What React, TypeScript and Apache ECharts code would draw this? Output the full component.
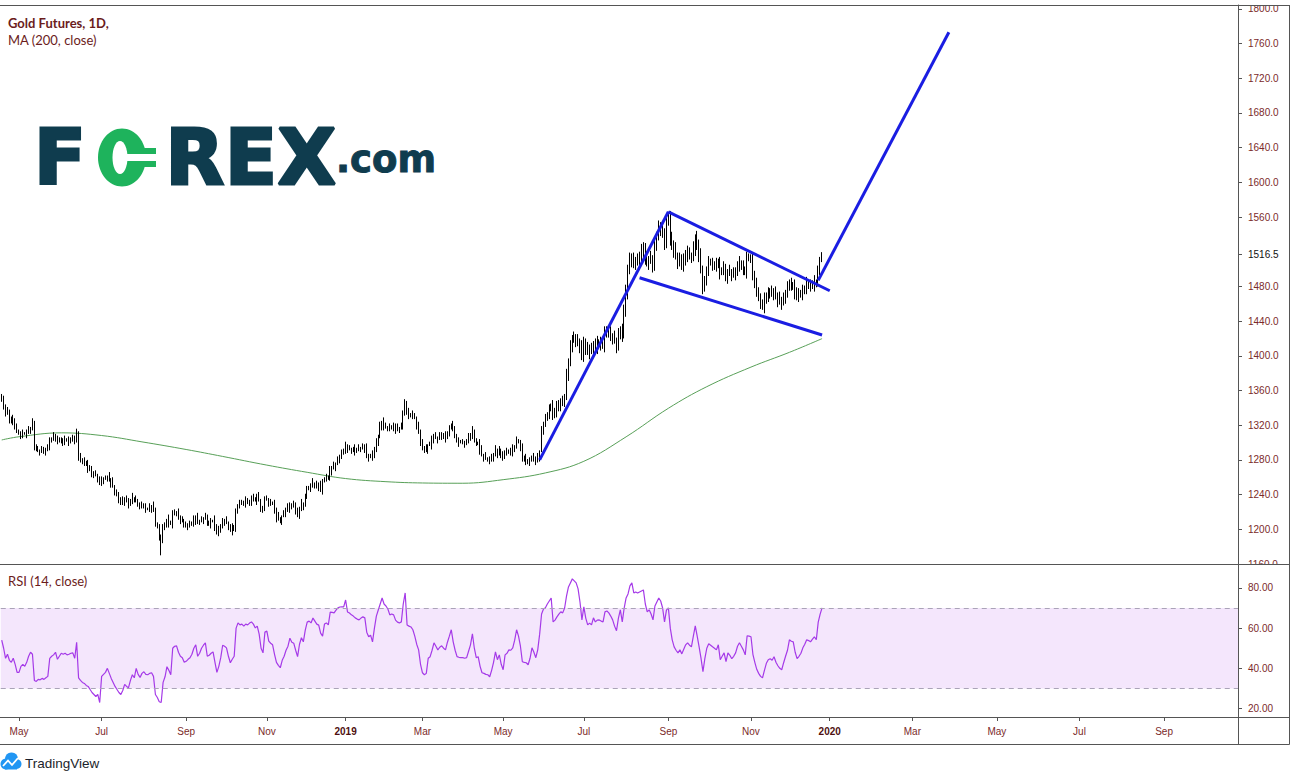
import React, { useEffect, useRef } from "react";
import * as echarts from "echarts";

// ---------- calendar ----------
const FIRST_SESSION = "2018-04-18";
const SESSION_COUNT = 644;
const MARKET_HOLIDAYS = [
  "2018-05-28", "2018-07-04", "2018-09-03", "2018-11-22", "2018-12-25",
  "2019-01-01", "2019-01-21", "2019-02-18", "2019-04-19", "2019-05-27",
  "2019-07-04", "2019-09-02", "2019-11-28", "2019-12-25",
];
const MONTH_ABBR = ["Jan", "Feb", "Mar", "Apr", "May", "Jun", "Jul", "Aug", "Sep", "Oct", "Nov", "Dec"];

// ---------- daily closes (Gold futures) ----------
const FIRST_OPEN = 1353;
const close_2018_04 = [1349, 1342, 1333, 1337, 1327, 1324, 1326, 1318, 1312];
const close_2018_05 = [1311, 1308, 1311, 1310, 1312, 1314, 1316, 1321, 1296, 1293, 1291, 1289, 1291, 1290, 1292, 1295, 1301, 1305, 1308, 1303, 1305, 1301];
const close_2018_06 = [1303, 1300, 1304, 1302, 1301, 1304, 1305, 1302, 1310, 1284, 1280, 1277, 1278, 1274, 1271, 1269, 1265, 1262, 1263, 1258, 1253];
const close_2018_07 = [1257, 1258, 1259, 1261, 1257, 1254, 1250, 1243, 1239, 1235, 1231, 1233, 1236, 1232, 1229, 1233, 1236, 1234, 1232, 1228, 1229];
const close_2018_08 = [1228, 1226, 1224, 1223, 1225, 1226, 1222, 1207, 1202, 1192, 1188, 1201, 1205, 1211, 1208, 1206, 1218, 1220, 1219, 1214, 1211, 1209, 1206];
const close_2018_09 = [1204, 1206, 1205, 1207, 1211, 1213, 1208, 1209, 1211, 1213, 1214, 1208, 1207, 1209, 1210, 1203, 1196, 1199, 1204];
const close_2018_10 = [1209, 1210, 1208, 1203, 1198, 1201, 1203, 1220, 1228, 1229, 1231, 1230, 1232, 1231, 1233, 1236, 1235, 1233, 1237, 1234, 1224, 1222, 1236];
const close_2018_11 = [1235, 1231, 1230, 1229, 1222, 1214, 1212, 1210, 1215, 1218, 1222, 1225, 1229, 1226, 1227, 1222, 1216, 1224, 1230, 1228, 1238];
const close_2018_12 = [1246, 1248, 1250, 1253, 1251, 1250, 1252, 1245, 1255, 1259, 1260, 1259, 1268, 1270, 1272, 1276, 1280, 1284, 1287, 1290];
const close_2019_01 = [1296, 1292, 1293, 1292, 1291, 1292, 1291, 1293, 1294, 1295, 1293, 1285, 1284, 1286, 1283, 1292, 1301, 1307, 1318, 1324, 1320];
const close_2019_02 = [1318, 1317, 1316, 1318, 1319, 1316, 1315, 1316, 1318, 1336, 1346, 1334, 1333, 1332, 1331, 1328, 1320, 1312, 1300];
const close_2019_03 = [1294, 1293, 1291, 1297, 1298, 1302, 1308, 1306, 1304, 1307, 1309, 1307, 1306, 1312, 1316, 1320, 1316, 1309, 1302, 1301, 1300];
const close_2019_04 = [1301, 1300, 1300, 1306, 1309, 1313, 1302, 1300, 1300, 1292, 1285, 1283, 1282, 1281, 1279, 1283, 1286, 1292, 1288, 1290, 1286];
const close_2019_05 = [1282, 1289, 1289, 1291, 1290, 1292, 1295, 1303, 1300, 1294, 1283, 1281, 1280, 1277, 1279, 1283, 1281, 1279, 1282, 1290, 1315, 1322];
const close_2019_06 = [1328, 1333, 1338, 1342, 1331, 1336, 1340, 1344, 1348, 1347, 1352, 1378, 1392, 1410, 1420, 1422, 1418, 1415, 1410, 1398];
const close_2019_07 = [1416, 1408, 1404, 1408, 1406, 1414, 1411, 1414, 1415, 1413, 1412, 1426, 1428, 1427, 1421, 1420, 1417, 1412, 1424, 1431, 1424, 1452];
const close_2019_08 = [1474, 1500, 1510, 1512, 1506, 1510, 1508, 1515, 1520, 1524, 1512, 1508, 1510, 1512, 1504, 1530, 1538, 1548, 1545, 1540, 1530, 1555];
const close_2019_09 = [1560, 1535, 1528, 1522, 1515, 1508, 1512, 1506, 1510, 1516, 1518, 1515, 1514, 1524, 1535, 1528, 1516, 1500, 1478, 1485];
const close_2019_10 = [1498, 1508, 1507, 1506, 1504, 1505, 1507, 1496, 1498, 1500, 1492, 1497, 1496, 1493, 1495, 1497, 1503, 1506, 1503, 1500, 1498, 1512, 1513];
const close_2019_11 = [1512, 1495, 1482, 1474, 1466, 1461, 1458, 1464, 1470, 1472, 1473, 1471, 1474, 1470, 1465, 1463, 1461, 1466, 1472, 1478];
const close_2019_12 = [1484, 1482, 1481, 1474, 1468, 1470, 1472, 1476, 1478, 1482, 1481, 1480, 1483, 1485, 1484, 1498, 1510, 1516.5];

// upper / lower wick size in dollars per session (base-36 digit per bar)
const WICK_HI = [
  "352413624", "3241352742315423514231", "324152436342516342513", "423152613425134261532",
  "32415263142531624315243", "3142536241532416352", "42513624153264135246132", "314253621435216432513",
  "42361524314253614253", "524136251436215342615", "3152436251426153243", "425136241532614253142",
  "314526231452613425163", "4251362413526142536142", "52637485364758463758", "6485736947586375948367",
  "8596748597685947586974", "67859475869748596847", "57463857496384756947385", "47385649375846395748",
  "463758463957483643",
];
const WICK_LO = [
  "243152431", "2431524253241352413251", "243152342532416253142", "351426241533615243125",
  "4251362415i423615243514", "2531462315243615243", "35241536241352463152431", "253146235142631524362",
  "31524362514236152431", "341526314253624135246", "2431562413526341524", "352416325143625134261",
  "263145243615234152634", "3142563214536241352416", "43625374856374658473", "5738465937485647396584",
  "7968574968759486957486", "58694857968475968574", "46385748356947385647593", "58463759486375948365",
  "375946385746395452",
];

// ---------- RSI (14, close) per session ----------
const rsi_2018_04 = [54, 50, 45, 47, 44, 43, 45, 42, 38];
const rsi_2018_05 = [38, 41, 42, 41, 43, 46, 48, 47, 34, 33.5, 34.5, 34.3, 35, 34.5, 35.3, 36, 45, 46, 46.7, 48, 44.5, 46];
const rsi_2018_06 = [47.5, 47, 47.5, 46.7, 47, 47.5, 47.7, 45, 53, 35.3, 34, 33, 32.5, 31.5, 31, 29.5, 28, 27, 26, 27, 23];
const rsi_2018_07 = [36, 37, 38, 40, 37.5, 35, 33, 31, 29.5, 28, 27, 29, 32, 31, 30.4, 34, 36.8, 35.3, 40, 37, 35.5];
const rsi_2018_08 = [37.5, 38.3, 37, 36.8, 37.5, 37.8, 36, 27, 25.5, 23.4, 23, 33, 35.8, 40.8, 39, 36.8, 50, 51, 51.2, 48, 46, 45.3, 43];
const rsi_2018_09 = [43.5, 44.5, 45.3, 47, 50, 51.7, 46, 47.5, 50, 51.5, 52.7, 46, 46.5, 47.5, 48.2, 43, 38, 41, 45.3];
const rsi_2018_10 = [51.5, 51, 50.2, 46, 42.8, 44.5, 46, 60, 62.6, 61.6, 62, 61, 62, 61.6, 62.5, 63.1, 62, 60.1, 61, 57, 50, 47.7, 58];
const rsi_2018_11 = [58.5, 53.5, 52.5, 51.7, 47, 43, 41.5, 40.3, 44, 46, 49, 51, 55, 53, 52.5, 49, 45.8, 52, 55.2, 53.2, 59];
const rsi_2018_12 = [63, 63.5, 62.6, 65, 63.5, 62, 61.5, 57.5, 56, 62, 62.6, 61.6, 68, 67.8, 67.6, 69, 70.1, 70.5, 70.6, 70.6];
const rsi_2019_01 = [74, 68, 67.5, 66.6, 66, 65.1, 64.5, 64.1, 65, 65.6, 65.1, 58, 55.7, 56.5, 53.2, 60, 66, 69, 72, 75, 72];
const rsi_2019_02 = [71, 69.5, 66.6, 67, 66.6, 64, 63, 62.6, 63.1, 72, 77.5, 61.6, 61, 60.6, 59.2, 56, 52, 49.2, 42];
const rsi_2019_03 = [37.8, 36.8, 37.5, 45, 45.8, 49, 52.7, 51, 49.2, 50.5, 51.2, 50, 49.2, 53, 56, 59.2, 53.2, 49, 45.8, 45.5, 45.3];
const rsi_2019_04 = [45.3, 45, 45.3, 48.5, 51.7, 57.2, 50, 45.3, 45.8, 41, 37.8, 37.5, 37, 36.8, 35.8, 39, 43, 48.2, 44.3, 46.7, 42];
const rsi_2019_05 = [39.3, 46.7, 47.5, 49.2, 49, 50.2, 54, 59.2, 56, 51, 43.3, 43, 42.8, 41.8, 45, 50.2, 48, 45.3, 49.2, 57, 67, 69.5];
const rsi_2019_06 = [70.1, 72, 73.5, 75, 63.1, 64, 65.6, 67, 68.1, 67.6, 70, 76, 80.5, 82.5, 84.5, 83.5, 82.5, 79.5, 73, 64.1];
const rsi_2019_07 = [70.6, 65, 61.6, 62.5, 61.6, 65.1, 63.1, 64, 64.1, 63.5, 63.1, 68.1, 68.5, 67.6, 66, 64.1, 61, 58.7, 65, 69.1, 63.1, 70];
const rsi_2019_08 = [75, 77, 81, 82.5, 77.5, 78, 77.5, 78, 78.5, 79, 72, 68.1, 69.1, 67, 64.1, 71, 73, 75, 73.5, 70, 63.1, 69];
const rsi_2019_09 = [70.1, 60, 54.2, 50.7, 49, 47.7, 49.2, 47.2, 49.5, 51.7, 52.7, 51.5, 50.7, 56, 61.1, 56, 50.7, 45, 38.3, 45];
const rsi_2019_10 = [50, 52.2, 51.5, 50.7, 50, 49.2, 51.7, 44.3, 46, 47.7, 43.3, 47.7, 46.5, 44.8, 46, 47.7, 51, 52.7, 51, 49.2, 46.7, 56.2, 56];
const rsi_2019_11 = [55.7, 47, 43, 39.5, 37.5, 36, 35.3, 39, 42.5, 44.3, 44.8, 44, 45.8, 43, 41.3, 40, 39.3, 42.8, 46, 49];
const rsi_2019_12 = [54.2, 53.5, 53.2, 48, 44.8, 46, 47.5, 50.2, 52, 54.2, 53.8, 53.2, 54.5, 55.7, 54.2, 63, 67, 70.1];

// ---------- MA (200, close), read at each month's first session ----------
const MA_DATES = [
  "2018-04-18", "2018-05-01", "2018-06-01", "2018-07-02", "2018-08-01", "2018-09-04", "2018-10-01",
  "2018-11-01", "2018-12-03", "2019-01-02", "2019-02-01", "2019-03-01", "2019-04-01", "2019-05-01",
  "2019-06-03", "2019-07-01", "2019-08-01", "2019-09-03", "2019-10-01", "2019-11-01", "2019-12-02", "2019-12-26",
];
const MA_VALUES = [
  1303, 1306.7, 1311.2, 1308.1, 1300.8, 1292, 1284, 1274, 1265.7, 1258.5, 1254.9,
  1253.4, 1253.1, 1257.2, 1265, 1278.4, 1306.6, 1339.5, 1364.4, 1387, 1404, 1419.8,
];

// ---------- hand-drawn trend lines (date, price) ----------
const POLE_LINE = [["2019-05-29", 1280], ["2019-09-03", 1566]];
const FLAG_TOP_LINE = [["2019-09-03", 1566], ["2020-01-01", 1475]];
const FLAG_BOTTOM_LINE = [["2019-08-12", 1490], ["2019-12-26", 1424]];
const TARGET_LINE = [["2019-12-23", 1487], ["2020-03-27", 1773]];

// ---------- axes ----------
const PRICE_TICKS = [1160, 1200, 1240, 1280, 1320, 1360, 1400, 1440, 1480, 1560, 1600, 1640, 1680, 1720, 1760, 1800];
const PRICE_MIN = 1160;
const PRICE_MAX = 1804.4;
const RSI_TICKS = [20, 40, 60, 80];
const RSI_MIN = 15.8;
const RSI_MAX = 91.9;
const RSI_UPPER = 70;
const RSI_LOWER = 30;

const AXIS_TEXT = "#7b2a2a";
const FRAME = "#555555";
const LOGO_DARK = "#0f3c4e";
const LOGO_GREEN = "#1eb35c";

function buildSessions(): string[] {
  const out: string[] = [];
  const [y, m, d] = FIRST_SESSION.split("-").map(Number);
  const t = new Date(Date.UTC(y, m - 1, d));
  while (out.length < SESSION_COUNT) {
    const wd = t.getUTCDay();
    const key = t.toISOString().slice(0, 10);
    if (wd !== 0 && wd !== 6 && !MARKET_HOLIDAYS.includes(key)) out.push(key);
    t.setUTCDate(t.getUTCDate() + 1);
  }
  return out;
}

export default function App() {
  const ref = useRef<HTMLDivElement>(null);

  useEffect(() => {
    if (!ref.current) return;
    const chart = echarts.init(ref.current, undefined, { renderer: "svg" });

    const sessions = buildSessions();
    const closes: number[] = [
      close_2018_04, close_2018_05, close_2018_06, close_2018_07, close_2018_08, close_2018_09,
      close_2018_10, close_2018_11, close_2018_12, close_2019_01, close_2019_02, close_2019_03,
      close_2019_04, close_2019_05, close_2019_06, close_2019_07, close_2019_08, close_2019_09,
      close_2019_10, close_2019_11, close_2019_12,
    ].flat();
    const rsi: number[] = [
      rsi_2018_04, rsi_2018_05, rsi_2018_06, rsi_2018_07, rsi_2018_08, rsi_2018_09,
      rsi_2018_10, rsi_2018_11, rsi_2018_12, rsi_2019_01, rsi_2019_02, rsi_2019_03,
      rsi_2019_04, rsi_2019_05, rsi_2019_06, rsi_2019_07, rsi_2019_08, rsi_2019_09,
      rsi_2019_10, rsi_2019_11, rsi_2019_12,
    ].flat();
    const hiW = WICK_HI.join("").split("").map((c) => parseInt(c, 36));
    const loW = WICK_LO.join("").split("").map((c) => parseInt(c, 36));
    const candles = closes.map((c, i) => {
      const o = i === 0 ? FIRST_OPEN : closes[i - 1];
      const hw = Number.isFinite(hiW[i]) ? hiW[i] : 3;
      const lw = Number.isFinite(loW[i]) ? loW[i] : 3;
      return [o, c, Math.min(o, c) - lw, Math.max(o, c) + hw];
    });
    const lastClose = closes[closes.length - 1];

    const isMonthLabel = (idx: number) => {
      if (idx <= 0 || idx >= sessions.length) return false;
      const mNow = Number(sessions[idx].slice(5, 7));
      const mPrev = Number(sessions[idx - 1].slice(5, 7));
      return mNow !== mPrev && mNow % 2 === 1;
    };

    const trendSeries = [POLE_LINE, FLAG_TOP_LINE, FLAG_BOTTOM_LINE, TARGET_LINE].map((pts) => ({
      type: "line",
      xAxisIndex: 0,
      yAxisIndex: 0,
      data: pts,
      symbol: "none",
      z: 4,
      lineStyle: { color: "#1a1de2", width: 3 },
      silent: true,
    }));

    const hLine = (y: number) => ({
      type: "line",
      shape: { x1: 0, y1: y, x2: 1289.5, y2: y },
      style: { stroke: FRAME, lineWidth: 1 },
      z: 120,
      silent: true,
    });
    const vLine = (x: number) => ({
      type: "line",
      shape: { x1: x, y1: 5, x2: x, y2: 744.5 },
      style: { stroke: FRAME, lineWidth: 1 },
      z: 120,
      silent: true,
    });
    const logoLetter = (text: string, x: number) => ({
      type: "text",
      x,
      y: 157.5,
      style: {
        text,
        font: "bold 76px 'DejaVu Sans'",
        fill: LOGO_DARK,
        stroke: LOGO_DARK,
        lineWidth: 3,
        textVerticalAlign: "middle",
      },
    });

    const option: any = {
      animation: false,
      backgroundColor: "#ffffff",
      grid: [
        { left: 0.76, right: 58, top: 5, height: 559 },
        { left: 0.76, right: 58, top: 564, height: 153 },
      ],
      xAxis: [
        {
          type: "category",
          gridIndex: 0,
          data: sessions,
          boundaryGap: true,
          axisLine: { show: false },
          axisTick: { show: false },
          axisLabel: { show: false },
          splitLine: { show: false },
        },
        {
          type: "category",
          gridIndex: 1,
          data: sessions,
          boundaryGap: true,
          axisLine: { show: true, lineStyle: { color: FRAME, width: 1 } },
          axisTick: {
            show: true,
            alignWithLabel: true,
            length: 4,
            interval: (i: number) => isMonthLabel(i),
            lineStyle: { color: FRAME },
          },
          axisLabel: {
            interval: (i: number) => isMonthLabel(i),
            margin: 9,
            color: AXIS_TEXT,
            fontSize: 10,
            fontFamily: "Liberation Sans",
            formatter: (v: string) => {
              const m = Number(v.slice(5, 7));
              return m === 1 ? `{y|${v.slice(0, 4)}}` : MONTH_ABBR[m - 1];
            },
            rich: { y: { color: "#4e1010", fontWeight: "bold", fontSize: 10, fontFamily: "Liberation Sans" } },
          },
          splitLine: { show: false },
        },
      ],
      yAxis: [
        {
          type: "value",
          gridIndex: 0,
          position: "right",
          min: PRICE_MIN,
          max: PRICE_MAX,
          splitLine: { show: false },
          axisLine: { show: true, lineStyle: { color: FRAME } },
          axisTick: {
            show: true,
            length: 4,
            customValues: [...PRICE_TICKS, lastClose],
            lineStyle: { color: FRAME },
          },
          axisLabel: {
            customValues: [...PRICE_TICKS, lastClose],
            margin: 10,
            color: AXIS_TEXT,
            fontSize: 10,
            fontFamily: "Liberation Sans",
            formatter: (v: number) => (v === lastClose ? `{last|${v.toFixed(1)}}` : v.toFixed(1)),
            rich: { last: { color: "#111111", fontSize: 10, fontFamily: "Liberation Sans" } },
          },
        },
        {
          type: "value",
          gridIndex: 1,
          position: "right",
          min: RSI_MIN,
          max: RSI_MAX,
          splitLine: { show: false },
          axisLine: { show: true, lineStyle: { color: FRAME } },
          axisTick: { show: true, length: 4, customValues: RSI_TICKS, lineStyle: { color: FRAME } },
          axisLabel: {
            customValues: RSI_TICKS,
            margin: 10,
            color: AXIS_TEXT,
            fontSize: 10,
            fontFamily: "Liberation Sans",
            formatter: (v: number) => v.toFixed(2),
          },
        },
      ],
      series: [
        {
          type: "line",
          name: "MA 200",
          xAxisIndex: 0,
          yAxisIndex: 0,
          data: MA_DATES.map((d, k) => [d, MA_VALUES[k]]),
          smooth: 0.4,
          symbol: "none",
          z: 1,
          lineStyle: { color: "#58a058", width: 1 },
          silent: true,
        },
        {
          type: "candlestick",
          name: "Gold Futures",
          xAxisIndex: 0,
          yAxisIndex: 0,
          data: candles,
          barWidth: 1.2,
          z: 2,
          itemStyle: {
            color: "#ffffff",
            color0: "#000000",
            borderColor: "#000000",
            borderColor0: "#000000",
            borderWidth: 1,
          },
          silent: true,
        },
        ...trendSeries,
        {
          type: "line",
          name: "RSI",
          xAxisIndex: 1,
          yAxisIndex: 1,
          data: rsi,
          symbol: "none",
          z: 3,
          lineStyle: { color: "#a53ae8", width: 1.2 },
          silent: true,
          markArea: {
            silent: true,
            itemStyle: { color: "#f4e6fc" },
            data: [[{ yAxis: RSI_LOWER }, { yAxis: RSI_UPPER }]],
          },
          markLine: {
            silent: true,
            symbol: ["none", "none"],
            label: { show: false },
            lineStyle: { color: "#aaa3b8", type: [5, 4], width: 1 },
            data: [{ yAxis: RSI_UPPER }, { yAxis: RSI_LOWER }],
          },
        },
      ],
      graphic: [
        // clip strips for axis labels at pane edges
        { type: "rect", shape: { x: 1239.5, y: 0, width: 49.5, height: 5 }, style: { fill: "#fff" }, z: 110, silent: true },
        { type: "rect", shape: { x: 1239.5, y: 565, width: 49.5, height: 7 }, style: { fill: "#fff" }, z: 110, silent: true },
        hLine(5.5),
        hLine(564.5),
        hLine(717.5),
        hLine(744.5),
        vLine(1238.5),
        vLine(1289.5),
        // legends
        {
          type: "text", x: 8, y: 23, silent: true, z: 130,
          style: { text: "Gold Futures, 1D,", font: "bold 13px Lato", fill: "#6b1c1c", textVerticalAlign: "middle" },
        },
        {
          type: "text", x: 8, y: 40, silent: true, z: 130,
          style: { text: "MA (200, close)", font: "13px Lato", fill: "#6b1c1c", textVerticalAlign: "middle" },
        },
        {
          type: "text", x: 8, y: 581, silent: true, z: 130,
          style: { text: "RSI (14, close)", font: "13px Lato", fill: "#6b1c1c", textVerticalAlign: "middle" },
        },
        // FOREX.com logo
        {
          type: "group", silent: true, z: 90,
          children: [
            logoLetter("F", 34),
            { type: "ellipse", shape: { cx: 122, cy: 157.5, rx: 24, ry: 29 }, style: { fill: LOGO_GREEN } },
            { type: "ellipse", shape: { cx: 120, cy: 157.5, rx: 7.5, ry: 16.5 }, style: { fill: "#ffffff" } },
            { type: "rect", shape: { x: 133, y: 148, width: 23, height: 6 }, style: { fill: LOGO_GREEN } },
            { type: "rect", shape: { x: 133, y: 161, width: 23, height: 6 }, style: { fill: LOGO_GREEN } },
            { type: "rect", shape: { x: 127, y: 154, width: 30, height: 7 }, style: { fill: "#ffffff" } },
            logoLetter("R", 165.5),
            logoLetter("E", 225),
            logoLetter("X", 277.5),
            {
              type: "text", x: 336, y: 159,
              style: { text: ".com", font: "bold 37px 'DejaVu Sans'", fill: LOGO_DARK, stroke: LOGO_DARK, lineWidth: 1, textVerticalAlign: "middle" },
            },
          ],
        },
        // TradingView badge
        {
          type: "group", silent: true, z: 90,
          children: [
            { type: "circle", shape: { cx: 6, cy: 764, r: 5.5 }, style: { fill: "#2196f3" } },
            { type: "circle", shape: { cx: 11.5, cy: 759, r: 6.5 }, style: { fill: "#2196f3" } },
            { type: "circle", shape: { cx: 16.5, cy: 764, r: 5 }, style: { fill: "#2196f3" } },
            { type: "rect", shape: { x: 5, y: 763, width: 12, height: 6.5 }, style: { fill: "#2196f3" } },
            { type: "polyline", shape: { points: [[3, 766], [8, 760.5], [12, 765], [18, 758]] }, style: { stroke: "#ffffff", lineWidth: 1.8, fill: "none" } },
            { type: "text", x: 25, y: 763, style: { text: "TradingView", font: "13.5px 'Liberation Sans'", fill: "#1b1f2b", textVerticalAlign: "middle" } },
          ],
        },
      ],
    };

    chart.setOption(option);
    return () => chart.dispose();
  }, []);

  return (
    <div
      ref={ref}
      style={{ position: "fixed", left: 0, top: 0, width: 1296, height: 781, background: "#fff" }}
    />
  );
}
